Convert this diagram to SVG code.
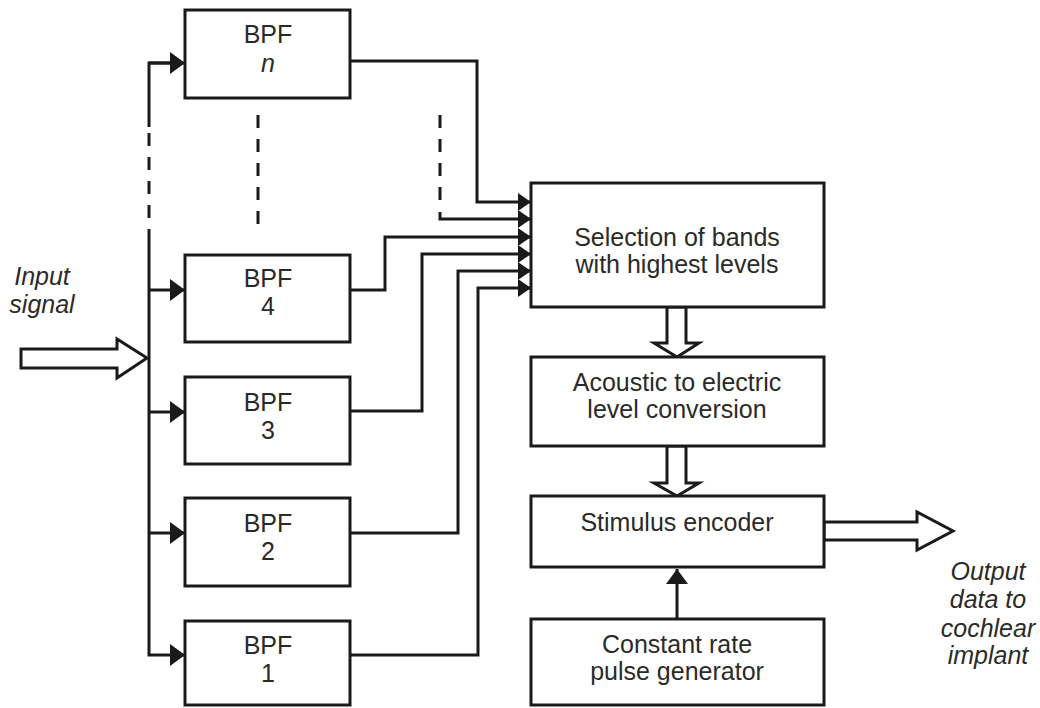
<svg xmlns="http://www.w3.org/2000/svg" width="1040" height="708" viewBox="0 0 1040 708">
<style>
.box{fill:#fff;stroke:#1a1a1a;stroke-width:3}
.ln{fill:none;stroke:#1a1a1a;stroke-width:3}
.dash{fill:none;stroke:#1a1a1a;stroke-width:3;stroke-dasharray:13 11}
.hol{fill:#fff;stroke:#1a1a1a;stroke-width:3;stroke-linejoin:miter}
.t{font-family:"Liberation Sans",Arial,sans-serif;font-size:25px;fill:#2a2a2a;text-anchor:middle}
.i{font-style:italic}
</style>
<defs>
<marker id="ah" markerUnits="userSpaceOnUse" markerWidth="16" markerHeight="24" refX="15" refY="11" orient="auto">
<path d="M0,0 L15,11 L0,22 z" fill="#1a1a1a"/>
</marker>
<marker id="as" markerUnits="userSpaceOnUse" markerWidth="14" markerHeight="18" refX="13" refY="9" orient="auto">
<path d="M0,0 L13,9 L0,18 z" fill="#1a1a1a"/>
</marker>
</defs>
<g id="connectors">
<path class="ln" d="M170,63 H149 V127" />
<line class="dash" x1="149" y1="133" x2="149" y2="237"/>
<path class="ln" d="M149,237 V655 H185" marker-end="url(#ah)"/>
<path class="ln" d="M149,63 H185" marker-end="url(#ah)"/>
<path class="ln" d="M149,290 H185" marker-end="url(#ah)"/>
<path class="ln" d="M149,412 H185" marker-end="url(#ah)"/>
<path class="ln" d="M149,533 H185" marker-end="url(#ah)"/>
<line class="dash" x1="258" y1="115" x2="258" y2="232"/>
<line class="dash" x1="440" y1="115" x2="440" y2="206"/>
<path class="ln" d="M350,61 H477 V202 H531" marker-end="url(#as)"/>
<path class="ln" d="M440,212 V219 H531" marker-end="url(#as)"/>
<path class="ln" d="M350,290 H385 V237 H531" marker-end="url(#as)"/>
<path class="ln" d="M350,411 H422 V254 H531" marker-end="url(#as)"/>
<path class="ln" d="M350,533 H458 V271 H531" marker-end="url(#as)"/>
<path class="ln" d="M350,655 H478 V288 H531" marker-end="url(#as)"/>
<polygon class="hol" points="21,349 117,349 117,339 147,358 117,378 117,368 21,368"/>
<polygon class="hol" points="667,307 667,343 654,343 677,357 699,343 686,343 686,307"/>
<polygon class="hol" points="667,446 667,483 654,483 677,496 699,483 686,483 686,446"/>
<polygon class="hol" points="824,522 917,522 917,512 953,531 917,550 917,540 824,540"/>
<path class="ln" d="M677,621 V569" marker-end="url(#ah)"/>
</g>
<g id="bpf-n"><rect class="box" x="185" y="10" width="165" height="88"/><text class="t" x="268" y="43">BPF</text><text class="t i" x="268" y="72">n</text></g>
<g id="bpf-4"><rect class="box" x="185" y="255" width="165" height="87"/><text class="t" x="268" y="287">BPF</text><text class="t" x="268" y="315">4</text></g>
<g id="bpf-3"><rect class="box" x="185" y="377" width="165" height="87"/><text class="t" x="268" y="411">BPF</text><text class="t" x="268" y="439">3</text></g>
<g id="bpf-2"><rect class="box" x="185" y="498" width="165" height="88"/><text class="t" x="268" y="532">BPF</text><text class="t" x="268" y="560">2</text></g>
<g id="bpf-1"><rect class="box" x="185" y="621" width="165" height="84"/><text class="t" x="268" y="654">BPF</text><text class="t" x="268" y="682">1</text></g>
<g id="selection"><rect class="box" x="531" y="183" width="293" height="124"/><text class="t" x="677" y="246">Selection of bands</text><text class="t" x="677" y="273">with highest levels</text></g>
<g id="conversion"><rect class="box" x="531" y="357" width="293" height="89"/><text class="t" x="677" y="391">Acoustic to electric</text><text class="t" x="677" y="418">level conversion</text></g>
<g id="encoder"><rect class="box" x="531" y="496" width="293" height="71"/><text class="t" x="677" y="531">Stimulus encoder</text></g>
<g id="pulse"><rect class="box" x="531" y="619" width="293" height="86"/><text class="t" x="677" y="653">Constant rate</text><text class="t" x="677" y="680">pulse generator</text></g>
<g id="input-label"><text class="t i" x="42" y="285">Input</text><text class="t i" x="42" y="313">signal</text></g>
<g id="output-label"><text class="t i" x="988" y="580">Output</text><text class="t i" x="988" y="608">data to</text><text class="t i" x="988" y="637">cochlear</text><text class="t i" x="988" y="664">implant</text></g>
</svg>
